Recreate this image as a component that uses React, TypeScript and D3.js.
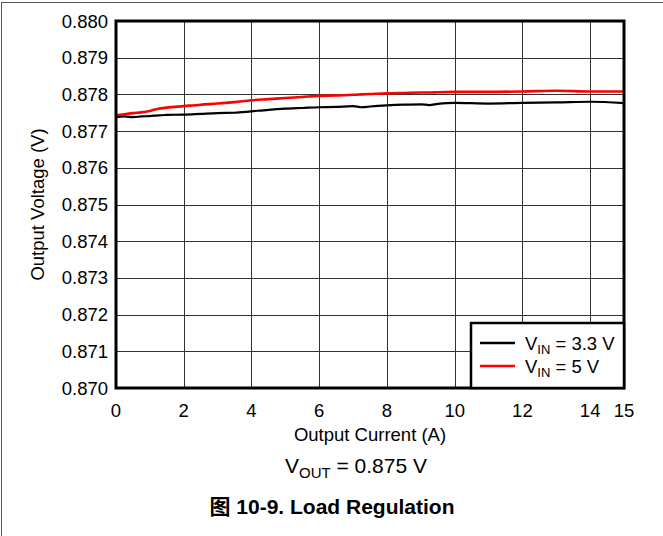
import React from "react";
import * as d3 from "d3";

const current = [0, 0.25, 0.5, 0.75, 1, 1.25, 1.5, 2, 2.5, 3, 3.5, 4, 4.5, 5, 5.5, 6, 6.5, 7, 7.25, 7.5, 8, 8.5, 9, 9.25, 9.5, 10, 11, 12, 13, 14, 15];
const vin33 = [0.87738, 0.8774, 0.87738, 0.8774, 0.87741, 0.87743, 0.87744, 0.87745, 0.87747, 0.87749, 0.8775, 0.87754, 0.87758, 0.87761, 0.87763, 0.87765, 0.87766, 0.87768, 0.87765, 0.87767, 0.8777, 0.87772, 0.87773, 0.87771, 0.87774, 0.87777, 0.87775, 0.87777, 0.87778, 0.8778, 0.87776];
const vin5 = [0.87743, 0.87746, 0.87749, 0.87751, 0.87755, 0.87761, 0.87764, 0.87768, 0.87772, 0.87775, 0.87779, 0.87784, 0.87787, 0.8779, 0.87793, 0.87796, 0.87797, 0.87799, 0.878, 0.87801, 0.87803, 0.87804, 0.87805, 0.87805, 0.87806, 0.87807, 0.87807, 0.87808, 0.8781, 0.87808, 0.87808];
const xTicks = [0, 2, 4, 6, 8, 10, 12, 14, 15];
const yTicks = [0.87, 0.871, 0.872, 0.873, 0.874, 0.875, 0.876, 0.877, 0.878, 0.879, 0.88];
const seriesNames = ["3.3 V", "5 V"];
const seriesColors = ["#000000", "#ff0000"];

const W = 663, H = 536;
const L = 116, R = 624, T = 21, B = 388;
const FONT = "'Liberation Sans', Arial, sans-serif";
const FS = 18.5;

export default function App() {
  const x = d3.scaleLinear().domain([0, 15]).range([L, R]);
  const y = d3.scaleLinear().domain([0.87, 0.88]).range([B, T]);
  const line = d3.line<number>().x((_, i) => x(current[i])).y((d) => y(d)).curve(d3.curveMonotoneX);
  const series = [vin33, vin5];
  const gridX = [2, 4, 6, 8, 10, 12, 14];
  return (
    <svg width={W} height={H} style={{ position: "absolute", left: 0, top: 0, background: "#fff" }} fontFamily={FONT}>
      <rect x={0} y={0} width={W} height={H} fill="#fff" />
      <line x1={1.5} y1={2} x2={1.5} y2={H} stroke="#555" strokeWidth={1} />
      <line x1={1} y1={2.5} x2={W} y2={2.5} stroke="#555" strokeWidth={1} />
      {gridX.map((v) => (
        <line key={"gx" + v} x1={Math.round(x(v)) + 0.5} x2={Math.round(x(v)) + 0.5} y1={T} y2={B} stroke="#333" strokeWidth={1} />
      ))}
      {yTicks.slice(1, -1).map((v) => (
        <line key={"gy" + v} x1={L} x2={R} y1={Math.round(y(v)) + 0.5} y2={Math.round(y(v)) + 0.5} stroke="#333" strokeWidth={1} />
      ))}
      {series.map((s, i) => (
        <path key={"s" + i} d={line(s) || ""} fill="none" stroke={seriesColors[i]} strokeWidth={i === 0 ? 2.2 : 2.6} />
      ))}
      <rect x={L} y={T} width={R - L} height={B - T} fill="none" stroke="#000" strokeWidth={3} />
      {yTicks.map((v) => (
        <text key={"yt" + v} x={L - 8} y={y(v) + 6.5} textAnchor="end" fontSize={FS} fill="#000">
          {d3.format(".3f")(v)}
        </text>
      ))}
      {xTicks.map((v) => (
        <text key={"xt" + v} x={x(v)} y={417} textAnchor="middle" fontSize={FS} fill="#000">
          {v}
        </text>
      ))}
      <text x={(L + R) / 2} y={441} textAnchor="middle" fontSize={FS} fill="#000">Output Current (A)</text>
      <text transform={`translate(44,${(T + B) / 2}) rotate(-90)`} textAnchor="middle" fontSize={FS} fill="#000">Output Voltage (V)</text>
      <g>
        <rect x={471} y={323} width={R - 471} height={B - 323} fill="#fff" stroke="#000" strokeWidth={2.5} />
        {seriesNames.map((n, i) => (
          <g key={"lg" + i}>
            <line x1={480} x2={515} y1={343 + i * 23} y2={343 + i * 23} stroke={seriesColors[i]} strokeWidth={2.5} />
            <text x={525} y={350 + i * 23} fontSize={FS} fill="#000">
              V<tspan fontSize={13} dy={4}>IN</tspan>
              <tspan dy={-4}>{" = " + n}</tspan>
            </text>
          </g>
        ))}
      </g>
      <text x={356} y={473} textAnchor="middle" fontSize={21} fill="#000">
        V<tspan fontSize={15} dy={5}>OUT</tspan>
        <tspan dy={-5}> = 0.875 V</tspan>
      </text>
      <text x={332} y={514} textAnchor="middle" fontSize={21} fontWeight="bold" fill="#000">
        <tspan fontFamily="'Noto Sans CJK SC', sans-serif">图</tspan> 10-9. Load Regulation
      </text>
    </svg>
  );
}
